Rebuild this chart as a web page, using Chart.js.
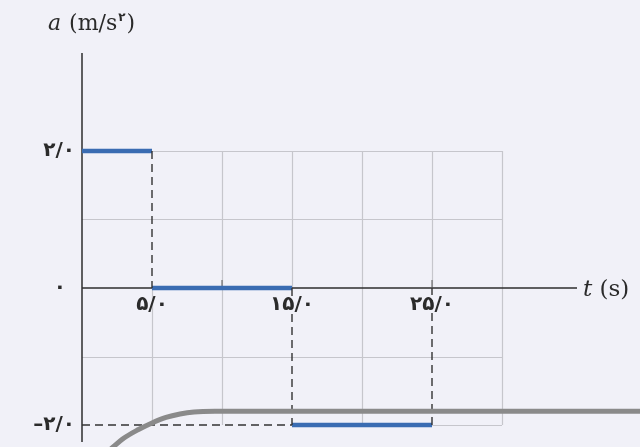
<!DOCTYPE html>
<html>
<head>
<meta charset="utf-8">
<script src="https://cdn.jsdelivr.net/npm/chart.js@4/dist/chart.umd.min.js"></script>
<style>
  html, body { margin: 0; padding: 0; background: #f1f1f8; }
  #wrap { width: 640px; height: 447px; }
</style>
</head>
<body>
<div id="wrap"><canvas id="c" width="640" height="447"></canvas></div>
<script>
// Piecewise-constant acceleration: a(t) on [start, end)
const stepStart = [0, 5, 15];
const stepEnd   = [5, 15, 25];
const accel     = [2, 0, -2];

// Grid and tick positions (data units)
const gridT = [0, 5, 10, 15, 20, 25, 30];
const gridA = [-2, -1, 0, 1, 2];
const xTickValues = [5, 15, 25];
const xTickLabels = ['۵/۰', '۱۵/۰', '۲۵/۰'];
const yTickValues = [2, 0, -2];
const yTickLabels = ['۲/۰', '۰', '–۲/۰'];

// Page-edge ornament running along the bottom
const edgeT = [2.0, 3.0, 4.0, 5.0, 6.0, 7.0, 8.0, 9.5, 40];
const edgeA = [-2.36, -2.19, -2.07, -1.97, -1.89, -1.84, -1.81, -1.80, -1.80];

const X_MAX = 30 * 495 / 420;
const Y_MAX = 2 + 98 / 68.5;
const Y_MIN = -2 - 17 / 68.5;

const BLUE = '#3a6cb2';
const DASH = '#333333';
const GRID = '#c6c6cc';
const AXIS = '#2e2e2e';

// dashed drop lines from each step edge
const guides = [];
for (let i = 0; i < stepEnd.length; i++) {
  const next = i + 1 < accel.length ? accel[i + 1] : 0;
  guides.push({ x: [stepEnd[i], stepEnd[i]], y: [accel[i], next] });
}
guides.push({ x: [0, stepStart[2]], y: [accel[2], accel[2]] });

const datasets = [];
datasets.push({
  data: edgeT.map((t, i) => ({ x: t, y: edgeA[i] })),
  showLine: true, borderColor: '#8a8a8a', borderWidth: 5,
  pointRadius: 0, cubicInterpolationMode: 'monotone', clip: false
});
guides.forEach(g => datasets.push({
  data: [{ x: g.x[0], y: g.y[0] }, { x: g.x[1], y: g.y[1] }],
  showLine: true, borderColor: DASH, borderWidth: 1.4, borderDash: [8, 5],
  pointRadius: 0, clip: false
}));
accel.forEach((a, i) => datasets.push({
  data: [{ x: stepStart[i], y: a }, { x: stepEnd[i], y: a }],
  showLine: true, borderColor: BLUE, borderWidth: 4.5,
  pointRadius: 0, clip: false, borderCapStyle: 'butt'
}));

// subtract covered intervals from [lo, hi]
function remaining(lo, hi, cuts) {
  let segs = [[lo, hi]];
  cuts.forEach(([a, b]) => {
    const out = [];
    segs.forEach(([s, e]) => {
      if (b <= s || a >= e) { out.push([s, e]); return; }
      if (a > s) out.push([s, a]);
      if (b < e) out.push([b, e]);
    });
    segs = out;
  });
  return segs;
}

const frame = {
  id: 'frame',
  beforeDatasetsDraw(chart) {
    const ctx = chart.ctx, xs = chart.scales.x, ys = chart.scales.y;
    const X = v => xs.getPixelForValue(v), Y = v => ys.getPixelForValue(v);
    ctx.save();
    ctx.strokeStyle = GRID; ctx.lineWidth = 1.2;
    const tMin = gridT[0], tMax = gridT[gridT.length - 1];
    const aMin = gridA[0], aMax = gridA[gridA.length - 1];
    gridT.forEach(t => {
      if (t === 0) return;
      const cuts = guides.filter(g => g.x[0] === t && g.x[1] === t)
        .map(g => [Math.min(...g.y), Math.max(...g.y)]);
      remaining(aMin, aMax, cuts).forEach(([s, e]) => {
        ctx.beginPath(); ctx.moveTo(Math.round(X(t)) + 0.5, Y(s)); ctx.lineTo(Math.round(X(t)) + 0.5, Y(e)); ctx.stroke();
      });
    });
    gridA.forEach(a => {
      if (a === 0) return;
      const cuts = guides.filter(g => g.y[0] === a && g.y[1] === a)
        .map(g => [Math.min(...g.x), Math.max(...g.x)]);
      remaining(tMin, tMax, cuts).forEach(([s, e]) => {
        ctx.beginPath(); ctx.moveTo(X(s), Math.round(Y(a)) + 0.5); ctx.lineTo(X(e), Math.round(Y(a)) + 0.5); ctx.stroke();
      });
    });
    // axes
    ctx.strokeStyle = AXIS; ctx.lineWidth = 1.5;
    ctx.beginPath();
    ctx.moveTo(X(0), chart.chartArea.top); ctx.lineTo(X(0), chart.chartArea.bottom);
    ctx.moveTo(X(0), Y(0)); ctx.lineTo(chart.chartArea.right, Y(0));
    ctx.stroke();
    // small ticks above the time axis
    ctx.strokeStyle = '#555'; ctx.lineWidth = 1;
    [10, 25].forEach(t => {
      ctx.beginPath(); ctx.moveTo(X(t), Y(0) - 8); ctx.lineTo(X(t), Y(0)); ctx.stroke();
    });
    ctx.restore();
  },
  afterDraw(chart) {
    const ctx = chart.ctx, xs = chart.scales.x, ys = chart.scales.y;
    const X = v => xs.getPixelForValue(v), Y = v => ys.getPixelForValue(v);
    ctx.save();
    ctx.fillStyle = '#2b2b2b';
    ctx.textBaseline = 'middle';
    ctx.font = 'bold 20px "DejaVu Sans"';
    ctx.letterSpacing = '3px';
    ctx.textAlign = 'right';
    yTickValues.forEach((v, i) => ctx.fillText(yTickLabels[i], v === 0 ? 66 : 75, Y(v)));
    ctx.textAlign = 'center';
    xTickValues.forEach((v, i) => ctx.fillText(xTickLabels[i], X(v), Y(0) + 17));
    ctx.letterSpacing = '0px';

    // axis titles
    const piece = (txt, font, x, y) => { ctx.font = font; ctx.fillText(txt, x, y); return x + ctx.measureText(txt).width; };
    ctx.textAlign = 'left';
    ctx.textBaseline = 'alphabetic';
    let x = 48;
    x = piece('a', 'italic 22px "DejaVu Serif"', x, 30);
    x = piece(' (m/s', '22px "DejaVu Serif"', x + 1, 30);
    x = piece('۲', 'bold 12px "DejaVu Sans"', x + 1, 21);
    piece(')', '22px "DejaVu Serif"', x + 1, 30);

    x = chart.chartArea.right + 6;
    x = piece('t', 'italic 23px "DejaVu Serif"', x, Y(0) + 8);
    piece(' (s)', '23px "DejaVu Serif"', x, Y(0) + 8);
    ctx.restore();
  }
};

new Chart(document.getElementById('c'), {
  type: 'scatter',
  data: { datasets },
  options: {
    responsive: false,
    animation: false,
    layout: { padding: { left: 82, right: 63, top: 53, bottom: 5 } },
    plugins: { legend: { display: false }, tooltip: { enabled: false } },
    scales: {
      x: { type: 'linear', min: 0, max: X_MAX, display: false },
      y: { type: 'linear', min: Y_MIN, max: Y_MAX, display: false }
    }
  },
  plugins: [frame]
});
</script>
</body>
</html>
